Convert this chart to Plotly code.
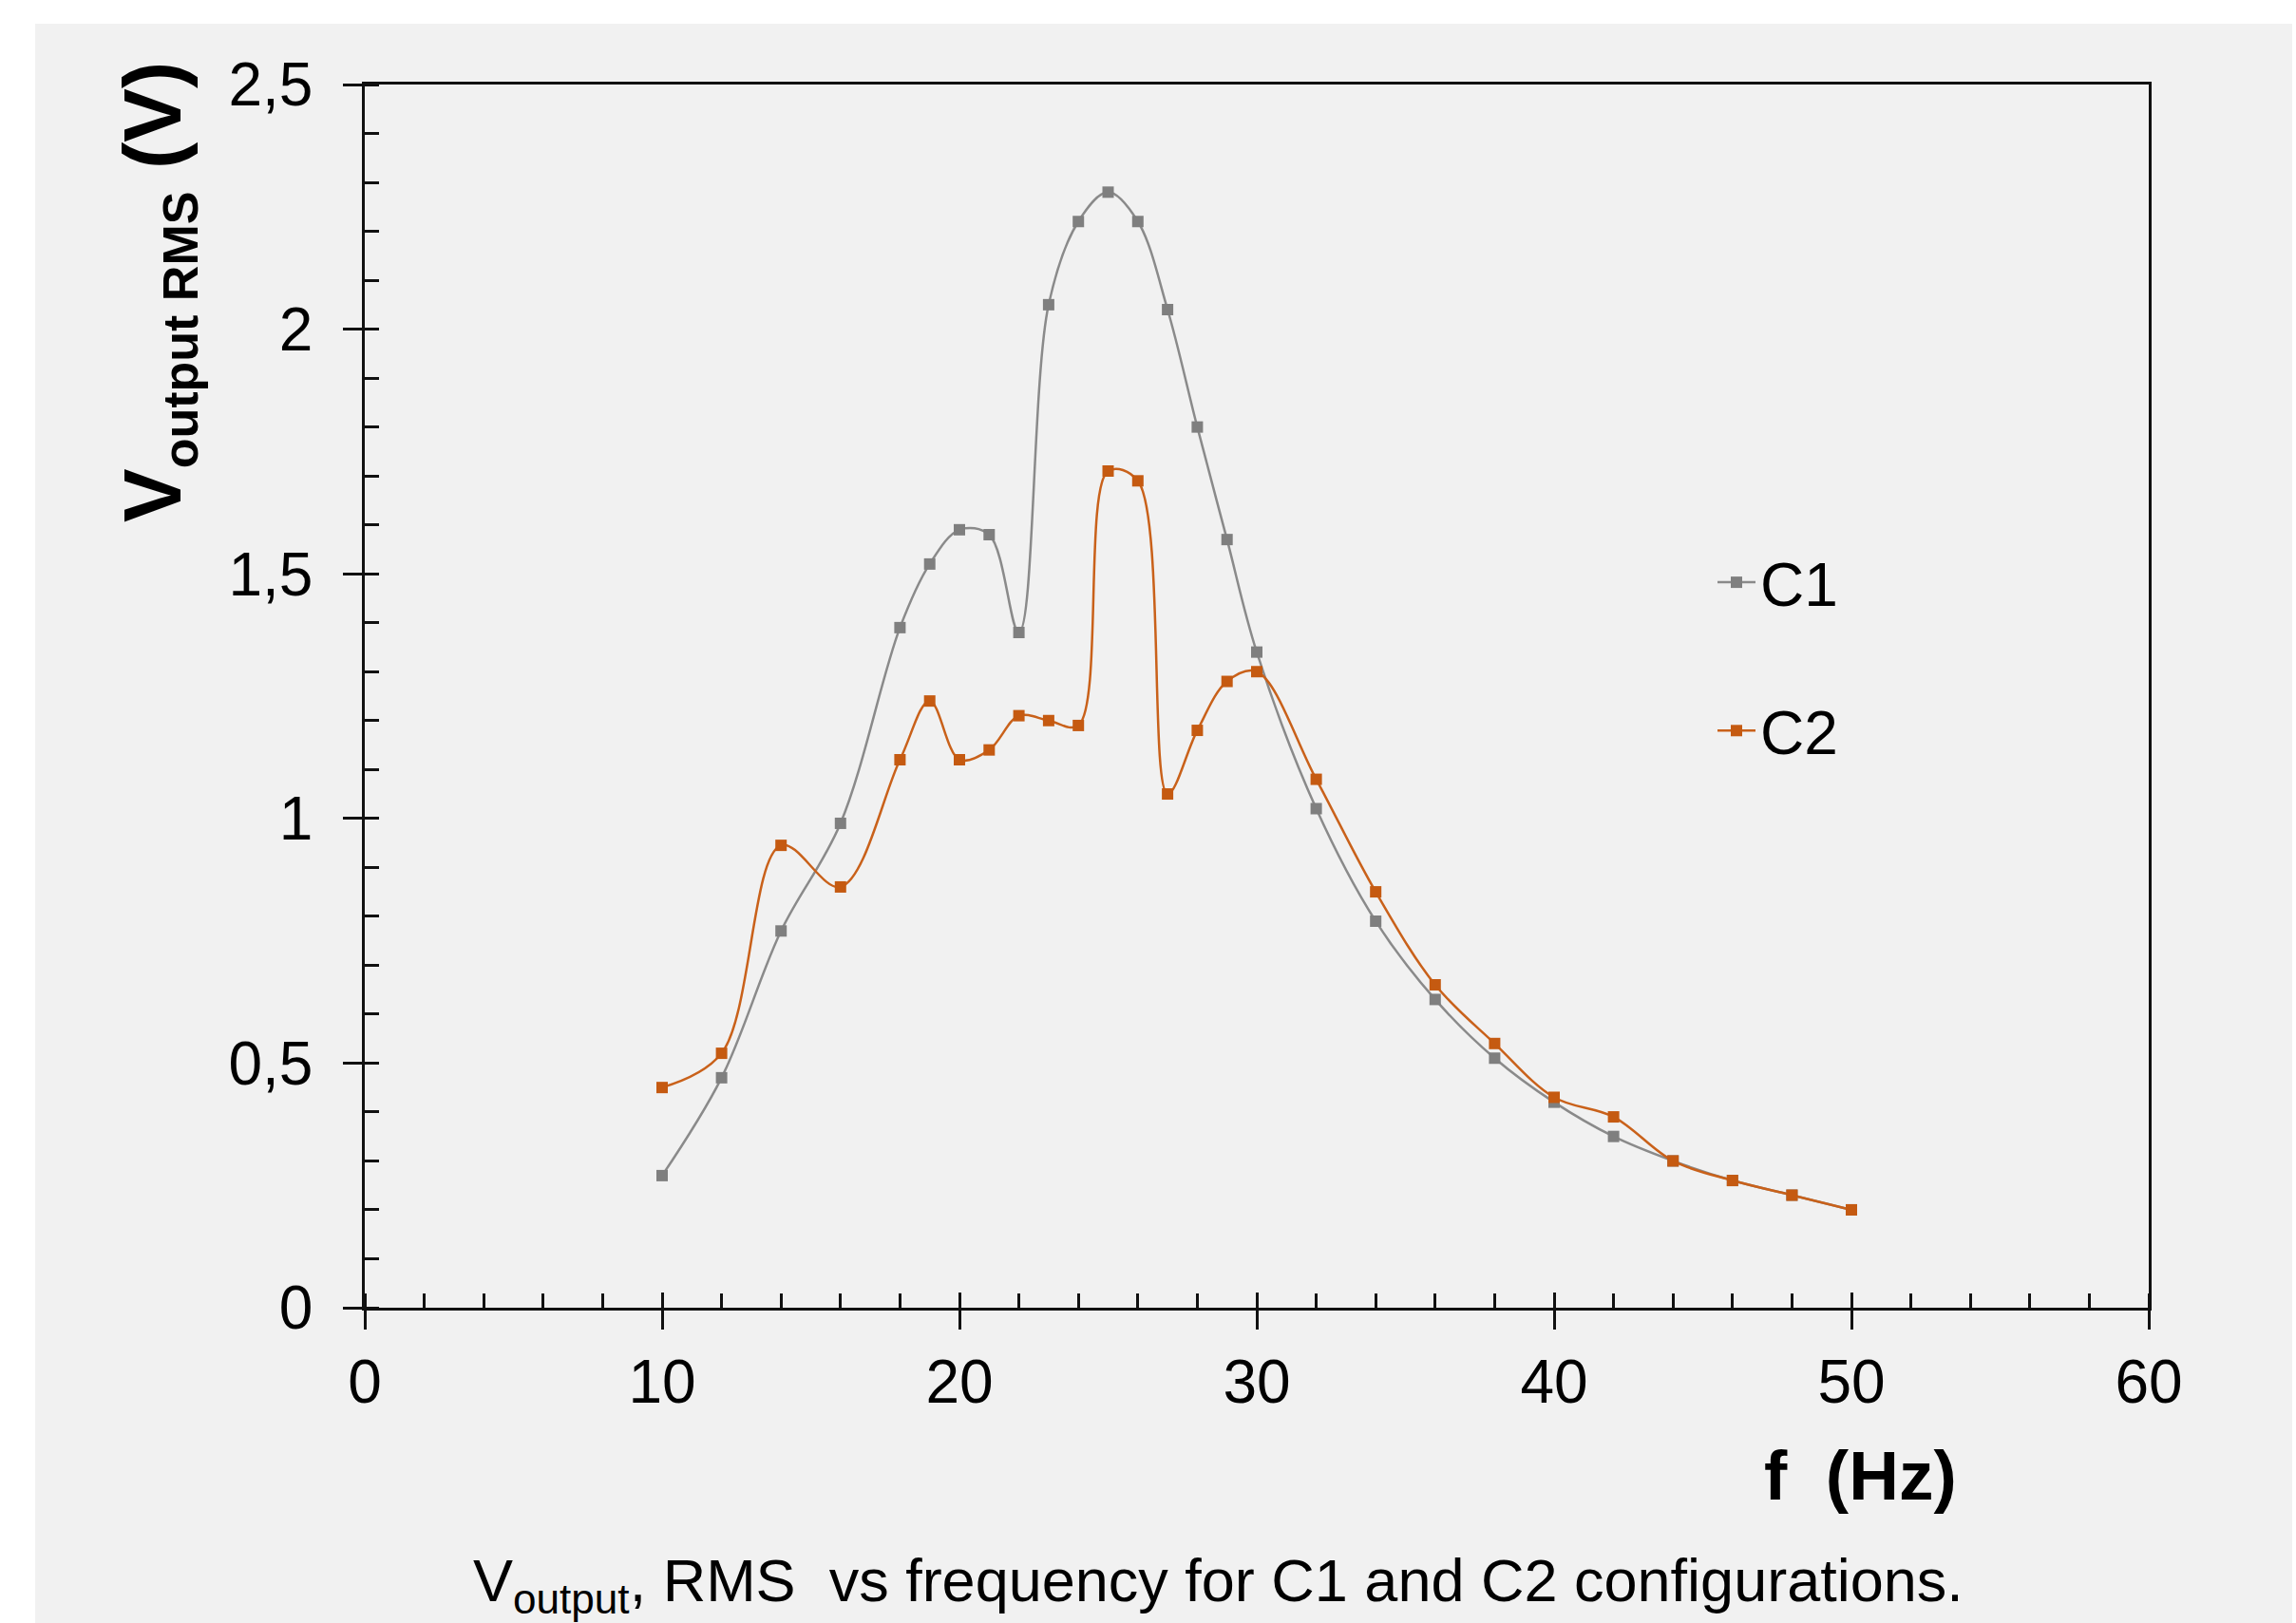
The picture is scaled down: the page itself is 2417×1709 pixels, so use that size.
import plotly.graph_objects as go

# ---- data ----
freq_c1 = [10, 12, 14, 16, 18, 19, 20, 21, 22, 23, 24, 25, 26, 27, 28, 29, 30,
           32, 34, 36, 38, 40, 42, 44, 46, 48, 50]
vrms_c1 = [0.27, 0.47, 0.77, 0.99, 1.39, 1.52, 1.59, 1.58, 1.38, 2.05, 2.22, 2.28,
           2.22, 2.04, 1.80, 1.57, 1.34, 1.02, 0.79, 0.63, 0.51, 0.42, 0.35, 0.30,
           0.26, 0.23, 0.20]

freq_c2 = [10, 12, 14, 16, 18, 19, 20, 21, 22, 23, 24, 25, 26, 27, 28, 29, 30,
           32, 34, 36, 38, 40, 42, 44, 46, 48, 50]
vrms_c2 = [0.45, 0.52, 0.945, 0.86, 1.12, 1.24, 1.12, 1.14, 1.21, 1.20, 1.19, 1.71,
           1.69, 1.05, 1.18, 1.28, 1.30, 1.08, 0.85, 0.66, 0.54, 0.43, 0.39, 0.30,
           0.26, 0.23, 0.20]

y_tickvals = [0, 0.5, 1, 1.5, 2, 2.5]
y_ticktext = ["0", "0,5", "1", "1,5", "2", "2,5"]
x_tickvals = [0, 10, 20, 30, 40, 50, 60]
x_ticktext = ["0", "10", "20", "30", "40", "50", "60"]

# ---- geometry ----
W, H = 2417, 1709
L, R, T, B = 384, 2262, 89, 1377
PW, PH = R - L, B - T


def px(xp):
    return (xp - L) / PW


def py(yp):
    return (B - yp) / PH


FONT = "Liberation Sans, Arial, sans-serif"
BG = "#f1f1f1"
AX = "#111111"

fig = go.Figure()
fig.add_trace(go.Scatter(
    x=freq_c1, y=vrms_c1, name="C1", mode="lines+markers",
    line=dict(color="#8a8a8a", width=2.5, shape="spline"),
    marker=dict(symbol="square", size=12, color="#7f7f7f"),
    legendgroup="g1"))
fig.add_trace(go.Scatter(
    x=freq_c2, y=vrms_c2, name="C2", mode="lines+markers",
    line=dict(color="#c9611a", width=2.5, shape="spline"),
    marker=dict(symbol="square", size=12, color="#c55a11"),
    legendgroup="g2"))
# invisible trace on overlay axes (for inside major ticks)
fig.add_trace(go.Scatter(x=[0], y=[0], xaxis="x2", yaxis="y2", mode="markers",
                         marker=dict(opacity=0), showlegend=False, hoverinfo="skip"))

axis_common = dict(showgrid=False, zeroline=False, showline=True, linecolor=AX,
                   linewidth=2.5, mirror=True, ticks="outside", tickwidth=2.5,
                   tickcolor=AX, ticklen=20,
                   tickfont=dict(family=FONT, size=64, color="black"))

fig.update_layout(
    width=W, height=H,
    margin=dict(l=L, r=W - R, t=T, b=H - B),
    paper_bgcolor=BG, plot_bgcolor=BG,
    showlegend=True,
    legend=dict(x=px(1803), y=py(565), xanchor="left", yanchor="top",
                bgcolor="rgba(0,0,0,0)", font=dict(family=FONT, size=64, color="black"),
                tracegroupgap=70, itemwidth=40),
    xaxis=dict(range=[0, 60], tickvals=x_tickvals, ticktext=x_ticktext,
               ticklabelstandoff=0,
               minor=dict(dtick=2, ticks="inside", ticklen=15, tickwidth=2.5,
                          tickcolor=AX),
               **axis_common),
    yaxis=dict(range=[0, 2.5], tickvals=y_tickvals, ticktext=y_ticktext,
               ticklabelstandoff=19,
               minor=dict(dtick=0.1, ticks="inside", ticklen=15, tickwidth=2.5,
                          tickcolor=AX),
               **axis_common),
    xaxis2=dict(range=[0, 60], overlaying="x", anchor="y2", tickvals=x_tickvals,
                ticks="inside", ticklen=16, tickwidth=2.5, tickcolor=AX,
                showticklabels=False, showgrid=False, zeroline=False, showline=False),
    yaxis2=dict(range=[0, 2.5], overlaying="y", anchor="x2", tickvals=y_tickvals,
                ticks="inside", ticklen=15, tickwidth=2.5, tickcolor=AX,
                showticklabels=False, showgrid=False, zeroline=False, showline=False),
    shapes=[
        dict(type="rect", xref="paper", yref="paper", x0=px(0), x1=px(W),
             y0=py(25), y1=py(0), fillcolor="white", line=dict(width=0), layer="above"),
        dict(type="rect", xref="paper", yref="paper", x0=px(0), x1=px(37),
             y0=py(H), y1=py(0), fillcolor="white", line=dict(width=0), layer="above"),
        dict(type="rect", xref="paper", yref="paper", x0=px(2413), x1=px(W),
             y0=py(H), y1=py(0), fillcolor="white", line=dict(width=0), layer="above"),
    ],
    annotations=[
        dict(text="<b>V<sub><span style='font-size:52px'>output RMS</span></sub> (V)</b>",
             textangle=-90,
             xref="paper", yref="paper", x=px(166), y=py(308),
             xanchor="center", yanchor="middle", showarrow=False,
             font=dict(family=FONT, size=85, color="black")),
        dict(text="<b>f\u00a0\u00a0(Hz)</b>", xref="paper", yref="paper",
             x=px(1958), y=py(1553), xanchor="center", yanchor="middle",
             showarrow=False, font=dict(family=FONT, size=73, color="black")),
        dict(text="V<sub>output</sub>, RMS\u00a0\u00a0vs frequency for C1 and C2 configurations.",
             xref="paper", yref="paper", x=px(1282), y=py(1668),
             xanchor="center", yanchor="middle", showarrow=False,
             font=dict(family=FONT, size=63, color="black")),
    ],
)

fig.write_html("out.html", config={"displayModeBar": False},
               post_script="document.body.style.margin='0px';")
